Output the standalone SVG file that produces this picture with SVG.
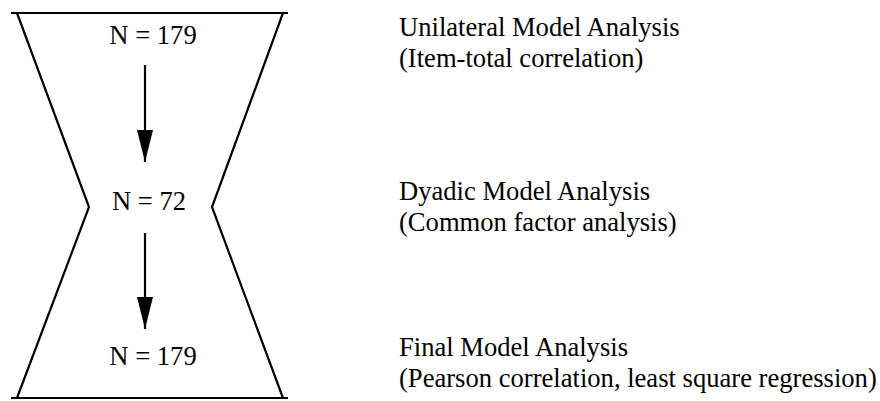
<svg xmlns="http://www.w3.org/2000/svg" width="880" height="401" viewBox="0 0 880 401">
<defs>
<style>
.t{font-family:"Liberation Serif","Times New Roman",serif;font-size:26.6px;fill:#000}
.s{fill:none;stroke:#000;stroke-width:2.2}
.c{stroke:#000;stroke-width:2.2;marker-end:url(#ah)}
</style>
<marker id="ah" markerUnits="userSpaceOnUse" markerWidth="34" markerHeight="18" refX="32" refY="8" orient="auto">
<path d="M0,0 L32,8 L0,16 Z" fill="#000"/>
</marker>
</defs>
<rect width="880" height="401" fill="#fff"/>
<g id="hourglass">
<line class="s" x1="11" y1="13" x2="288" y2="13"/>
<line class="s" x1="11" y1="398" x2="288" y2="398"/>
<polyline class="s" points="17,13 89,207 17,398"/>
<polyline class="s" points="283,13 212,207 283,398"/>
</g>
<g id="n1"><text class="t" x="153" y="44" text-anchor="middle">N = 179</text></g>
<g id="n2"><text class="t" x="149" y="210" text-anchor="middle">N = 72</text></g>
<g id="n3"><text class="t" x="153" y="365" text-anchor="middle">N = 179</text></g>
<g id="connectors">
<line class="c" x1="145" y1="65" x2="145" y2="162"/>
<line class="c" x1="145" y1="233" x2="145" y2="329"/>
</g>
<g id="label1">
<text class="t" x="399" y="36">Unilateral Model Analysis</text>
<text class="t" x="399" y="67">(Item-total correlation)</text>
</g>
<g id="label2">
<text class="t" x="399" y="200">Dyadic Model Analysis</text>
<text class="t" x="399" y="231">(Common factor analysis)</text>
</g>
<g id="label3">
<text class="t" x="399" y="356">Final Model Analysis</text>
<text class="t" x="399" y="387">(Pearson correlation, least square regression)</text>
</g>
</svg>
